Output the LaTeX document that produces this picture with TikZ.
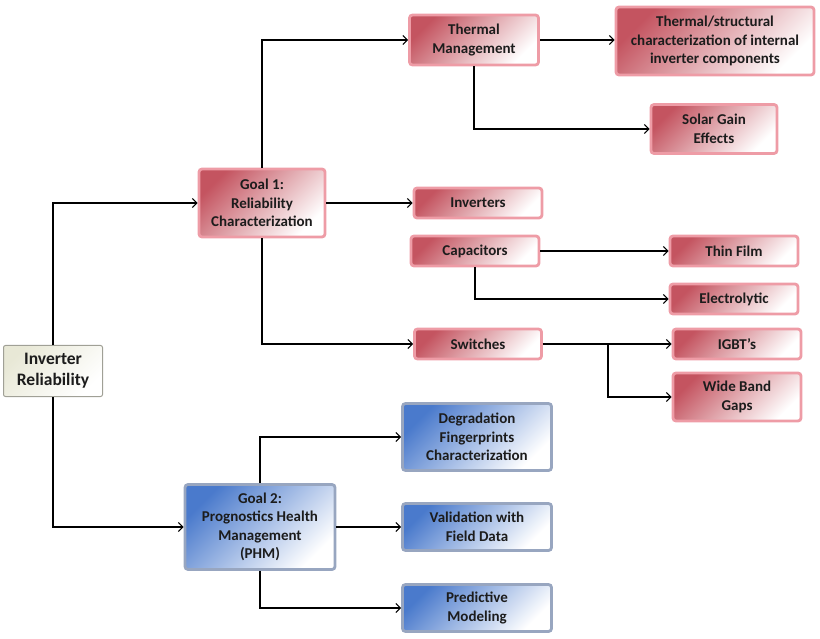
\documentclass[tikz,border=0pt]{standalone}
\usepackage{fontspec}
\setmainfont{Carlito}
\usetikzlibrary{positioning,arrows.meta}

\definecolor{rosedark}{RGB}{196,84,96}
\definecolor{roseedge}{RGB}{238,156,166}
\definecolor{bluedark}{RGB}{74,122,204}
\definecolor{blueedge}{RGB}{152,166,192}
\definecolor{rootfill}{RGB}{232,232,214}
\definecolor{rootedge}{RGB}{160,160,150}
\definecolor{inkgray}{RGB}{28,28,28}

\begin{document}
\begin{tikzpicture}[x=1pt, y=-1pt,
    font=\fontsize{15}{18.5}\selectfont\bfseries,
    every node/.style={text=inkgray, align=center, inner sep=0pt},
    redbox/.style={draw=roseedge, line width=2.8pt, rounded corners=3pt,
      top color=rosedark, middle color=rosedark!40, bottom color=white, shading angle=45},
    bluebox/.style={draw=blueedge, line width=2.8pt, rounded corners=3pt,
      top color=bluedark, middle color=bluedark!45, bottom color=white, shading angle=45},
    rootbox/.style={draw=rootedge, line width=1pt, rounded corners=2pt,
      top color=rootfill, bottom color=white, shading angle=45},
    conn/.style={-{Straight Barb[length=4.5pt,width=9pt]}, line width=1.1pt, black}]
  \useasboundingbox (0,0) rectangle (820,639);

  % rod og de to maal
  \node[rootbox, minimum width=99pt, minimum height=51pt,
    font=\fontsize{17.5}{21}\selectfont\bfseries] (root) at (53,371) {Inverter\\Reliability};
  \node[redbox, minimum width=126pt, minimum height=68pt] (goal1) at (262,203) {Goal 1:\\Reliability\\Characterization};
  \node[bluebox, minimum width=150pt, minimum height=85pt] (goal2) at (260,527) {Goal 2:\\Prognostics Health\\Management\\(PHM)};

  % grenen under maal 1
  \node[redbox, minimum width=129pt, minimum height=50pt] (thermal) at (474,40) {Thermal\\Management};
  \node[redbox, minimum width=198pt, minimum height=68pt,
    font=\fontsize{15}{18.5}\selectfont\bfseries] (thermchar) at (715,41) {Thermal/structural\\characterization of internal\\inverter components};
  \node[redbox, minimum width=126pt, minimum height=49pt] (solar) at (714,129) {Solar Gain\\Effects};
  \node[redbox, minimum width=128pt, minimum height=30pt] (inverters) at (478,203) {Inverters};
  \node[redbox, minimum width=128pt, minimum height=30pt] (caps) at (475,251) {Capacitors};
  \node[redbox, minimum width=128pt, minimum height=30pt] (thinfilm) at (734,251) {Thin Film};
  \node[redbox, minimum width=128pt, minimum height=30pt] (electro) at (734,299) {Electrolytic};
  \node[redbox, minimum width=127pt, minimum height=30pt] (switches) at (478,344) {Switches};
  \node[redbox, minimum width=128pt, minimum height=30pt] (igbt) at (737,344) {IGBT’s};
  \node[redbox, minimum width=128pt, minimum height=48pt] (widegap) at (737,397) {Wide Band\\Gaps};

  % grenen under maal 2
  \node[bluebox, minimum width=149pt, minimum height=67pt] (degrad) at (477,437) {Degradation\\Fingerprints\\Characterization};
  \node[bluebox, minimum width=149pt, minimum height=47pt] (valid) at (477,527) {Validation with\\Field Data};
  \node[bluebox, minimum width=149pt, minimum height=47pt] (predict) at (477,608) {Predictive\\Modeling};

  \coordinate (split) at (608,344);

  % forbindelser
  \draw[conn] (root.north) |- (goal1.west);
  \draw[conn] (root.south) |- (goal2.west);
  \draw[conn] (goal1.north) |- (thermal.west);
  \draw[conn] (goal1.east) -- (inverters.west);
  \draw[conn] (goal1.south) |- (switches.west);
  \draw[conn] (thermal.east) -- (thermal.east -| thermchar.west);
  \draw[conn] (thermal.south) |- (solar.west);
  \draw[conn] (caps.east) -- (thinfilm.west);
  \draw[conn] (caps.south) |- (electro.west);
  \draw[conn] (switches.east) -- (igbt.west);
  \draw[conn] (split) |- (widegap.west);
  \draw[conn] (goal2.north) |- (degrad.west);
  \draw[conn] (goal2.east) -- (valid.west);
  \draw[conn] (goal2.south) |- (predict.west);
\end{tikzpicture}
\end{document}
